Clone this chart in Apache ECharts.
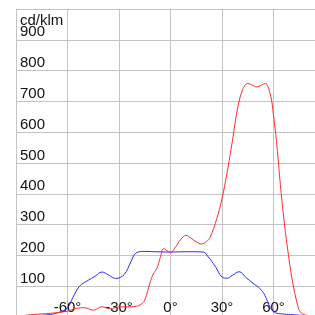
<!DOCTYPE html>
<html lang="en">
<head>
    <meta charset="UTF-8">
    <title>cd/klm</title>
    <script src="https://cdn.jsdelivr.net/npm/echarts@6/dist/echarts.min.js"></script>
    <style>
        html, body { margin: 0; padding: 0; background: #fff; }
    </style>
</head>
<body>
<div id="showbox" style="width:315px; height:315px;"></div>
</body>
<script type="text/javascript">
    // angle (deg), intensity (cd/klm)
    var redCurve = [
        [-90, 2], [-80, 8], [-70, 12], [-60, 19], [-55, 28], [-50, 30], [-45, 22], [-40, 33],
        [-35, 27], [-30, 33], [-25, 33], [-20, 35], [-17, 42], [-15, 55], [-12, 110], [-10, 140],
        [-8, 157], [-6, 192], [-4, 222], [-2, 215], [0, 210], [3, 228], [6, 252], [9, 265],
        [12, 256], [15, 244], [18, 237], [21, 245], [23, 258], [27, 320], [30, 385], [33, 470],
        [36, 570], [39, 675], [42, 738], [45, 758], [48, 752], [50, 747], [52, 750], [55, 758],
        [58, 726], [60, 655], [62, 555], [64, 430], [66, 320], [68, 230], [71, 118], [74, 40],
        [76, 14], [80, 5], [90, 2]
    ];
    var blueCurve = [
        [-90, 0], [-80, 4], [-70, 8], [-65, 15], [-60, 30], [-57, 62], [-53, 100], [-48, 119],
        [-44, 132], [-40, 146], [-36, 136], [-32, 125], [-27, 138], [-23, 180], [-20, 208],
        [-15, 213], [-10, 212], [0, 211], [10, 212], [19, 211], [22, 195], [26, 165], [30, 130],
        [33, 126], [36, 135], [40, 147], [44, 128], [48, 110], [52, 93], [55, 70], [58, 32],
        [61, 14], [65, 10], [70, 8], [80, 4], [90, 1]
    ];
    var angleTicks = [-90, -60, -30, 0, 30, 60, 90];
    var yTicks = [100, 200, 300, 400, 500, 600, 700, 800, 900];

    var chart = echarts.init(document.getElementById("showbox"));
    var font = 'Liberation Sans, Arial, sans-serif';

    chart.setOption({
        animation: false,
        title: {
            text: 'cd/klm',
            left: 15,
            top: 8,
            textStyle: { fontSize: 15, fontWeight: 'normal', color: '#111', fontFamily: font }
        },
        grid: { left: 16, top: 9, width: 309, height: 308, outerBoundsMode: 'none' },
        xAxis: {
            type: 'value',
            min: -90,
            max: 90,
            interval: 30,
            axisLine: { show: false },
            axisTick: { show: false },
            splitLine: { show: true, lineStyle: { color: '#c4c4c4', width: 1 } },
            axisLabel: {
                inside: true,
                margin: 2,
                fontSize: 15,
                color: '#111',
                fontFamily: font,
                formatter: function (v) {
                    return angleTicks.indexOf(v) > 0 && angleTicks.indexOf(v) < angleTicks.length - 1 ? v + '°' : '';
                }
            }
        },
        yAxis: {
            type: 'value',
            min: 0,
            max: 1000,
            interval: 100,
            axisLine: { show: true, lineStyle: { color: '#c4c4c4' } },
            axisTick: { show: false },
            splitLine: { show: true, lineStyle: { color: '#c4c4c4', width: 1 } },
            axisLabel: {
                inside: true,
                margin: 4,
                fontSize: 15,
                color: '#111',
                fontFamily: font,
                verticalAlign: 'bottom',
                formatter: function (v) {
                    return yTicks.indexOf(v) >= 0 ? String(v) : '';
                }
            }
        },
        series: [
            {
                name: 'C0-C180',
                type: 'line',
                smooth: 0.4,
                showSymbol: false,
                data: redCurve,
                lineStyle: { color: '#ff2a2a', width: 1 },
                z: 3
            },
            {
                name: 'C90-C270',
                type: 'line',
                smooth: 0.4,
                showSymbol: false,
                data: blueCurve,
                lineStyle: { color: '#2a2aff', width: 1 },
                z: 2
            }
        ]
    });
</script>
</html>
